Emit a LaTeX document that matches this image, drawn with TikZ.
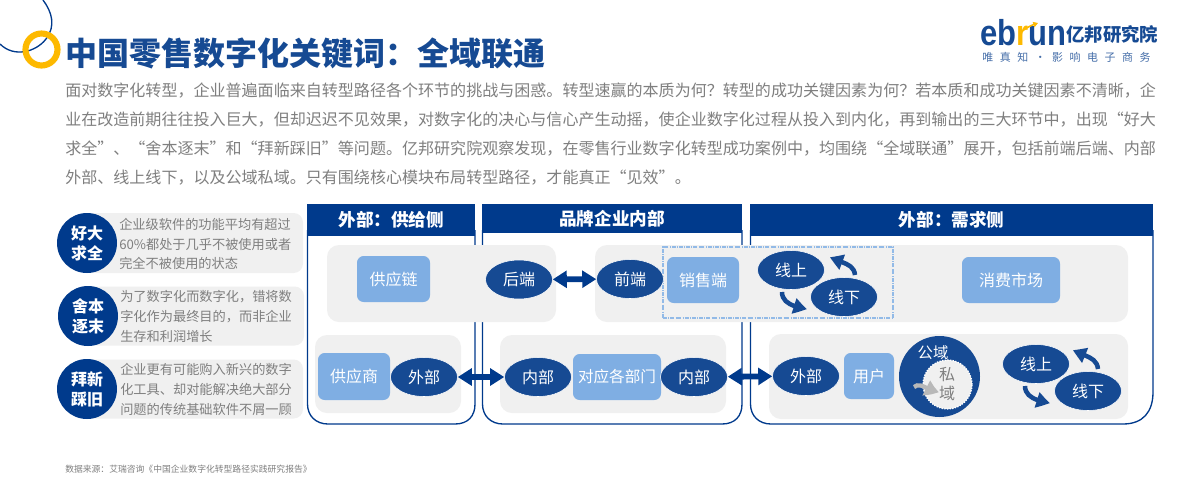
\documentclass[tikz,border=0pt]{standalone}
\usepackage{fontspec}
\usetikzlibrary{arrows.meta,bending,shapes.geometric}
\setmainfont{Noto Sans CJK SC}
\newfontfamily\logofont{Liberation Sans}
\newfontfamily\spacedcjk[LetterSpace=60]{Noto Sans CJK SC}
\definecolor{navy}{HTML}{003A8C}
\definecolor{ellblue}{HTML}{164A93}
\definecolor{boxblue}{HTML}{7FAEE3}
\definecolor{rowgray}{HTML}{F0F0F0}
\definecolor{bodygray}{HTML}{7F7F7F}
\definecolor{ringgold}{HTML}{FDB900}
\tikzset{
  x=0.75pt,y=-0.75pt,
  sz/.style 2 args={minimum width=#1*0.75pt,minimum height=#2*0.75pt},
  rowbox/.style={fill=rowgray,rounded corners=9pt,inner sep=0pt},
  bluebox/.style={fill=boxblue,rounded corners=5pt,inner sep=0pt,text=white,font=\fontsize{12}{14}\selectfont},
  oval/.style={ellipse,fill=ellblue,draw=white,line width=0.4pt,inner sep=0pt,sz={67}{39},text=white,font=\fontsize{12}{14}\selectfont},
  bodyline/.style={anchor=west,inner sep=0pt,text=bodygray,font=\fontsize{12.03}{14}\selectfont},
  panelline/.style={draw=navy,line width=1pt},
  headbar/.style={fill=navy,inner sep=0pt,text=white,font=\bfseries\fontsize{13.2}{15}\selectfont},
  badge/.style={circle,fill=navy,inner sep=0pt,minimum size=45pt,text=white,align=center,font=\bfseries\fontsize{12}{15}\selectfont},
  notebar/.style={fill=rowgray,rounded corners=7pt,inner sep=0pt},
  notetext/.style={anchor=west,inner sep=0pt,align=left,text=bodygray,font=\fontsize{9.9}{14.8}\selectfont},
  both/.style={line width=4.4pt,draw=navy,{Triangle[length=10.5pt,width=12.5pt]}-{Triangle[length=10.5pt,width=12.5pt]}},
  cyc/.style={line width=3.4pt,draw=ellblue,-{Triangle[length=10pt,width=11.5pt,bend]}},
}
\begin{document}
\begin{tikzpicture}
\useasboundingbox (0,0) rectangle (1200,480);
\fill[white] (0,0) rectangle (1200,480);

% corner decoration
\draw[navy,line width=1pt] (43,0) .. controls (52,12) and (56,26) .. (46,39) .. controls (36,52) and (14,58) .. (0,44);
\draw[ringgold,line width=4.6pt] (41.5,49.5) circle (16);

% title and logo
\node[anchor=west,inner sep=0pt,text=ellblue,font=\bfseries\fontsize{24}{28}\selectfont] (title) at (65,53) {中国零售数字化关键词：全域联通};
\node[anchor=west,inner sep=0pt,xscale=0.86,font=\logofont\bfseries\fontsize{27}{30}\selectfont] (logoword) at (980,33) {\textcolor{ellblue}{eb}\textcolor{ringgold}{r}\textcolor{ellblue}{un}};
\coordinate (logoa) at (1021,32);
\coordinate (logob) at (1038,23);
\draw[ringgold,line width=1.2pt,-{Triangle[length=3.5pt,width=4pt]}] (logoa) to[bend left=10] (logob);
\node[anchor=west,inner sep=0pt,text=ellblue,font=\bfseries\fontsize{13.8}{16}\selectfont] (logocn) at (1066,34) {亿邦研究院};
\node[anchor=west,inner sep=0pt,text=ellblue!80,font=\spacedcjk\fontsize{8.2}{10}\selectfont] (logotag) at (982,57) {唯真知·影响电子商务};

% body text
\node[bodyline] (l1) at (65,91) {面对数字化转型，企业普遍面临来自转型路径各个环节的挑战与困惑。转型速赢的本质为何？转型的成功关键因素为何？若本质和成功关键因素不清晰，企};
\node[bodyline] (l2) at (65,120) {业在改造前期往往投入巨大，但却迟迟不见效果，对数字化的决心与信心产生动摇，使企业数字化过程从投入到内化，再到输出的三大环节中，出现“好大};
\node[bodyline] (l3) at (65,149) {求全”、“舍本逐末”和“拜新踩旧”等问题。亿邦研究院观察发现，在零售行业数字化转型成功案例中，均围绕“全域联通”展开，包括前端后端、内部};
\node[bodyline] (l4) at (65,178) {外部、线上线下，以及公域私域。只有围绕核心模块布局转型路径，才能真正“见效”。};

% left notes
\node[notebar,sz={216}{60}] (n1) at (195,243) {};
\node[notebar,sz={216}{59}] (n2) at (196,316) {};
\node[notebar,sz={216}{59}] (n3) at (195,389) {};
\node[badge] (b1) at (87,243) {好大\\求全};
\node[badge] (b2) at (88,316) {舍本\\逐末};
\node[badge] (b3) at (87,389) {拜新\\踩旧};
\node[notetext] (t1) at (119,244) {企业级软件的功能平均有超过\\60\%都处于几乎不被使用或者\\完全不被使用的状态};
\node[notetext] (t2) at (120,316.5) {为了数字化而数字化，错将数\\字化作为最终目的，而非企业\\生存和利润增长};
\node[notetext] (t3) at (120,389.5) {企业更有可能购入新兴的数字\\化工具、却对能解决绝大部分\\问题的传统基础软件不屑一顾};

% panels
\draw[panelline] (307.5,230) -- (307.5,404) .. controls (307.5,416) and (316,424) .. (328,424) -- (455,424) .. controls (468,424) and (475,416) .. (475,404) -- (475,230);
\draw[panelline] (482.5,230) -- (482.5,404) .. controls (482.5,416) and (491,424) .. (503,424) -- (722,424) .. controls (735,424) and (742,416) .. (742,404) -- (742,230);
\draw[panelline] (750.5,230) -- (750.5,404) .. controls (750.5,416) and (759,424) .. (771,424) -- (1123,424) .. controls (1143,424) and (1153,412) .. (1153,392) -- (1153,230);
\node[headbar,sz={168}{32}] (h1) at (391.25,220) {外部：供给侧};
\node[headbar,sz={260}{29}] (h2) at (612,218.5) {品牌企业内部};
\node[headbar,sz={403}{32}] (h3) at (951.75,220) {外部：需求侧};

% gray rows
\node[rowbox,sz={229}{77}] (r1) at (441.5,283.5) {};
\node[rowbox,sz={533}{77}] (r2) at (861.5,283.5) {};
\node[rowbox,sz={146}{78}] (r3) at (388,374) {};
\node[rowbox,sz={226}{78}] (r4) at (613,374) {};
\node[rowbox,sz={359}{85}] (r5) at (948.5,376.5) {};

% dashed frame
\node[draw=boxblue!85,densely dashdotted,line width=0.9pt,inner sep=0pt,sz={230}{71}] (frame) at (778,282.5) {};

% blue boxes
\node[bluebox,sz={73}{46}] (gyl) at (393.5,279) {供应链};
\node[bluebox,sz={72}{47}] (gys) at (354,376.5) {供应商};
\node[bluebox,sz={88}{46},font=\fontsize{11.7}{14}\selectfont] (dept) at (617,377) {对应各部门};
\node[bluebox,sz={72}{46}] (xsd) at (703,280) {销售端};
\node[bluebox,sz={98}{46}] (xfsc) at (1011,280) {消费市场};
\node[bluebox,sz={50}{46}] (yh) at (869,376) {用户};

% ovals
\node[oval] (hd) at (519,279.5) {后端};
\node[oval] (qd) at (630,279) {前端};
\node[oval] (wb1) at (424,377) {外部};
\node[oval] (nb1) at (538,377) {内部};
\node[oval] (nb2) at (694,377) {内部};
\node[oval] (wb2) at (806,376) {外部};
\node[oval] (up1) at (791,270) {线上};
\node[oval] (dn1) at (844,297) {线下};
\node[oval] (up2) at (1036,364) {线上};
\node[oval] (dn2) at (1088,391) {线下};

% public and private domain
\node[circle,fill=ellblue,inner sep=0pt,minimum size=60.75pt] (pub) at (939.5,376.5) {};
\node[circle,fill=rowgray,draw=white,densely dotted,line width=1pt,inner sep=0pt,minimum size=36.75pt] (pri) at (947.5,384.5) {};
\coordinate (pristart) at (914,387);
\coordinate (priend) at (939,391);
\draw[line width=3.2pt,draw=black!28,-{Triangle[length=10pt,width=12pt,bend]}] (pristart) to[out=40,in=195] (priend);
\node[inner sep=0pt,text=white,font=\fontsize{11.5}{14}\selectfont] (publabel) at (933,353) {公域};
\node[inner sep=0pt,align=center,text=bodygray,font=\fontsize{12}{14.5}\selectfont] (prilabel) at (947,384) {私\\域};

% connectors
\draw[both] (hd) -- (qd);
\draw[both] (wb1) -- (nb1);
\draw[both] (nb2) -- (wb2);
\coordinate (c1a) at (782,292);
\coordinate (c1b) at (807,309);
\coordinate (c2a) at (855,275);
\coordinate (c2b) at (830,257);
\coordinate (c3a) at (1025,386);
\coordinate (c3b) at (1050,403);
\coordinate (c4a) at (1098,369);
\coordinate (c4b) at (1073,350);
\draw[cyc] (c1a) to[out=-90,in=170] (c1b);
\draw[cyc] (c2a) to[out=95,in=-30] (c2b);
\draw[cyc] (c3a) to[out=-90,in=170] (c3b);
\draw[cyc] (c4a) to[out=95,in=-30] (c4b);

% source
\node[anchor=west,inner sep=0pt,text=bodygray,font=\fontsize{6.6}{8}\selectfont] (src) at (65,469) {数据来源：艾瑞咨询《中国企业数字化转型路径实践研究报告》};
\end{tikzpicture}
\end{document}
